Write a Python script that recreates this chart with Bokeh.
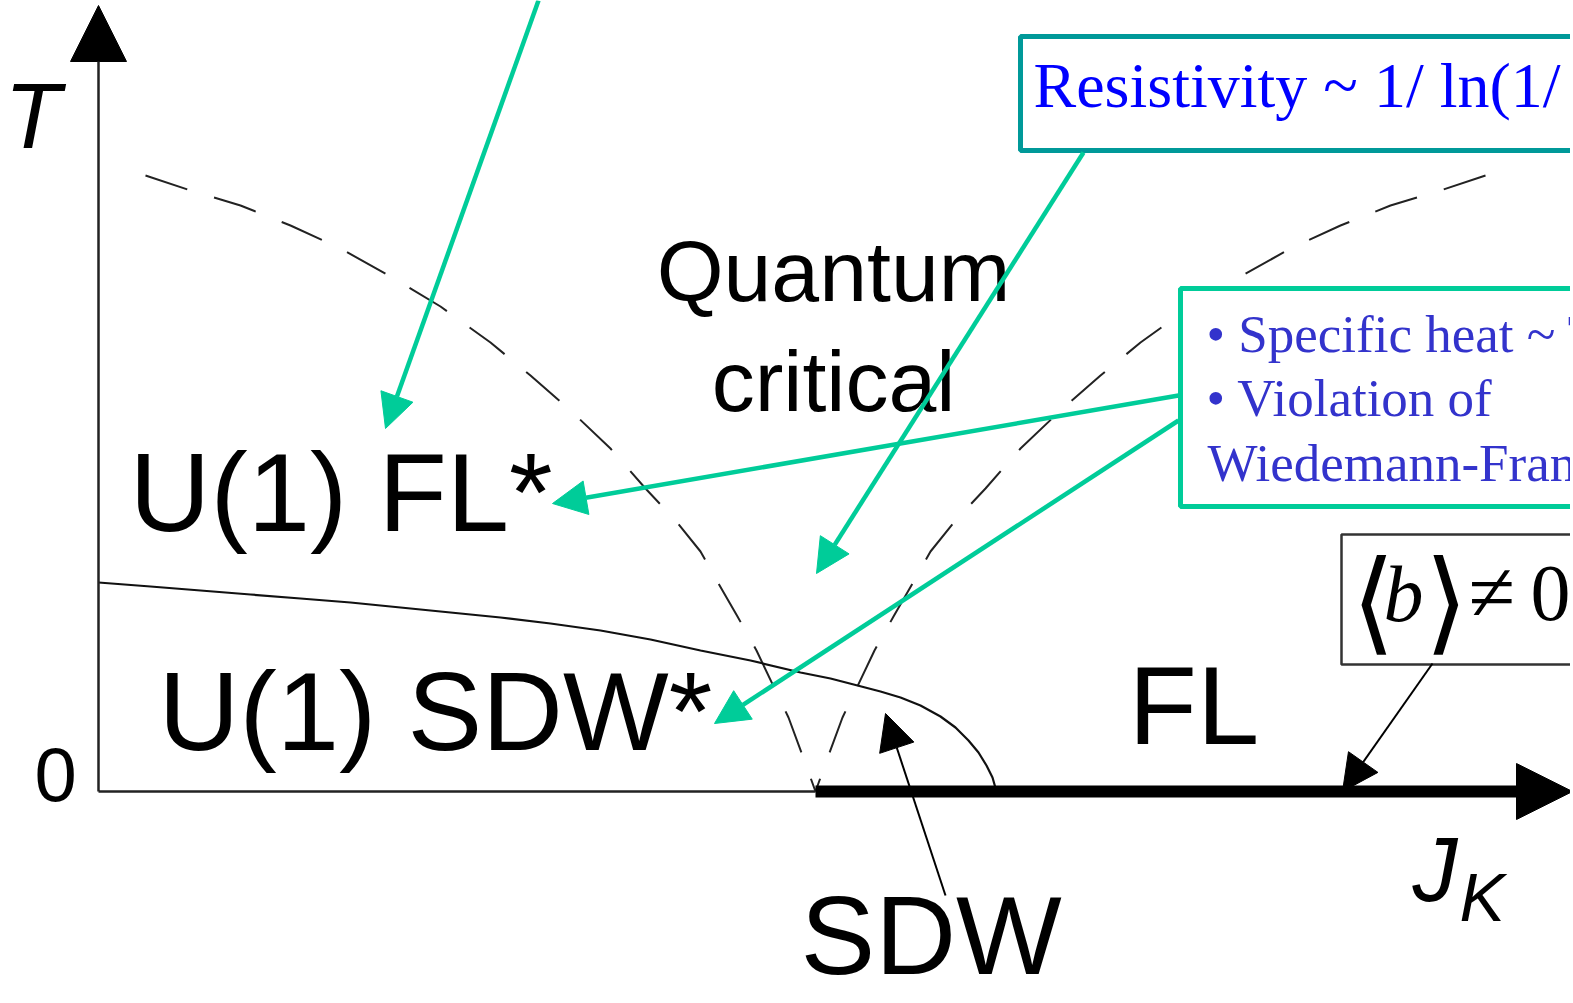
from bokeh.plotting import figure
from bokeh.models import Range1d, Arrow, NormalHead, ColumnDataSource
from bokeh.core.properties import value
from bokeh.embed import file_html
from bokeh.resources import INLINE

# ---------------- data (diagram coordinates, J_K to the right, T measured downwards on a flipped range) ----
# phase boundary (solid line)
boundary_x = [98, 150, 200, 250, 300, 350, 400, 450, 500, 550, 600, 650, 700, 750, 800, 830,
              857, 880, 900, 920, 940, 955, 968, 978, 986, 992, 996]
boundary_y = [582, 586, 590, 594, 598, 602, 607, 612, 617, 623, 630, 639, 650, 660, 672, 678,
              685, 691, 697, 705, 716, 727, 740, 752, 765, 777, 791]

# crossover lines (dashed)
left_dash_x = [145, 190, 240, 290, 340, 390, 440, 490, 530, 570, 610, 645, 675, 700, 718, 737,
               756, 775, 788, 802, 815]
left_dash_y = [175, 190, 205, 225, 248, 276, 306, 342, 375, 410, 448, 488, 520, 551, 583, 616,
               650, 690, 717, 755, 791]
right_dash_x = [1485, 1440, 1390, 1340, 1290, 1240, 1190, 1140, 1100, 1060, 1020, 985, 955, 930,
                912, 893, 874, 855, 842, 828, 815]
right_dash_y = [175, 190, 205, 225, 248, 276, 306, 342, 375, 410, 448, 488, 520, 551, 583, 616,
                650, 690, 717, 755, 791]

# axes
origin_x, origin_y = 98, 791
t_axis_top = 5
jk_axis_end = 1572
sdw_line_start = 815

# region labels (x = left / centre, y = baseline)
labels = ["U(1) FL*", "U(1) SDW*", "Quantum", "critical", "FL", "SDW"]
label_x = [129, 158, 833, 833, 1128, 800]
label_y = [533, 752, 302, 412, 746, 976]
label_align = ["left", "left", "center", "center", "left", "left"]
label_size = [112, 112, 86, 86, 112, 112]

# info boxes
res_text = "Resistivity ~ 1/ ln(1/"
heat_lines = ["\u2022 Specific heat ~ T", "\u2022 Violation of", "Wiedemann-Franz"]
heat_x = [1206, 1206, 1207]
heat_y = [353, 417, 482]
box_left = [1020, 1180]
box_right = [1640, 1640]
box_top = [36, 288]
box_bottom = [150, 506]
box_colors = ["#009999", "#00CC99"]
bbox_left, bbox_right, bbox_top, bbox_bottom = [1341], [1640], [534], [664]

# green arrows: start -> tip
g_x0 = [538, 1083, 1178, 1178]
g_y0 = [0, 152, 395, 420]
g_x1 = [385, 816, 552, 714]
g_y1 = [428, 573, 503, 723]

# black arrows: start -> tip
k_x0 = [945, 1432]
k_y0 = [895, 663]
k_x1 = [885, 1342]
k_y1 = [713, 791]

GREEN = "#00CC99"
SHIFT = 0.37  # baseline correction of the svg text renderer (fraction of font size)

W, H = 1570, 1000
p = figure(width=W, height=H, x_range=Range1d(0, W), y_range=Range1d(H, 0),
           output_backend="svg", toolbar_location=None, min_border=0)
p.axis.visible = False
p.grid.visible = False
p.outline_line_color = None
p.background_fill_color = "white"
p.border_fill_color = "white"


def txt(x, y, t, size, font="Liberation Sans", color="black", align="left", style="normal"):
    p.text(x=[x], y=[y - SHIFT * size], text=[t], text_align=align, text_baseline="alphabetic",
           text_font=value(font), text_font_size=f"{size}px", text_font_style=style,
           text_color=color)


# dashed crossover lines
p.line(left_dash_x, left_dash_y, line_color="#222222", line_width=2, line_dash="44 28")
p.line(right_dash_x, right_dash_y, line_color="#222222", line_width=2, line_dash="44 28")

# phase boundary
p.line(boundary_x, boundary_y, line_color="#111111", line_width=2.2)

# axes
p.line([origin_x, sdw_line_start], [origin_y, origin_y], line_color="#222222", line_width=2.5)
p.line([sdw_line_start, jk_axis_end - 40], [origin_y, origin_y], line_color="black", line_width=12)
p.add_layout(Arrow(end=NormalHead(size=56, fill_color="black", line_color="black", line_width=1),
                   x_start=jk_axis_end - 60, y_start=origin_y, x_end=jk_axis_end, y_end=origin_y,
                   line_color="black", line_width=1))
p.add_layout(Arrow(end=NormalHead(size=56, fill_color="black", line_color="black", line_width=1),
                   x_start=origin_x, y_start=origin_y, x_end=origin_x, y_end=t_axis_top,
                   line_color="#222222", line_width=2.5))

# boxes
p.quad(left=box_left, right=box_right, top=box_top, bottom=box_bottom,
       fill_color="white", line_color=box_colors, line_width=5)
p.quad(left=bbox_left, right=bbox_right, top=bbox_top, bottom=bbox_bottom,
       fill_color="white", line_color="#333333", line_width=2.5)

# region labels
for t, x, y, a, s in zip(labels, label_x, label_y, label_align, label_size):
    txt(x, y, t, s, align=a)

# axis labels
txt(4, 150, "T", 92, style="italic")
txt(34, 802, "0", 76)
txt(1412, 903, "J", 90, style="italic")
txt(1459, 922, "K", 68, style="italic")

# info texts
txt(1033, 109, res_text, 64, font="Liberation Serif", color="#0000FF")
for t, x, y in zip(heat_lines, heat_x, heat_y):
    txt(x, y, t, 53, font="Liberation Serif", color="#3333CC")

# <b> != 0
txt(1351, 642, "\u27E8", 112, font="DejaVu Serif")
txt(1383, 623, "b", 80, font="Liberation Serif", style="italic")
txt(1424, 642, "\u27E9", 112, font="DejaVu Serif")
txt(1468, 623, "\u2260", 85, font="Liberation Serif")
txt(1530, 623, "0", 80, font="Liberation Serif")

# arrows
gsrc = ColumnDataSource(dict(x0=g_x0, y0=g_y0, x1=g_x1, y1=g_y1))
p.add_layout(Arrow(end=NormalHead(size=34, fill_color=GREEN, line_color=GREEN, line_width=1),
                   source=gsrc, x_start="x0", y_start="y0", x_end="x1", y_end="y1",
                   line_color=GREEN, line_width=4.5))
ksrc = ColumnDataSource(dict(x0=k_x0, y0=k_y0, x1=k_x1, y1=k_y1))
p.add_layout(Arrow(end=NormalHead(size=36, fill_color="black", line_color="black", line_width=1),
                   source=ksrc, x_start="x0", y_start="y0", x_end="x1", y_end="y1",
                   line_color="black", line_width=2))

open("out.html", "w").write(file_html(p, INLINE))
